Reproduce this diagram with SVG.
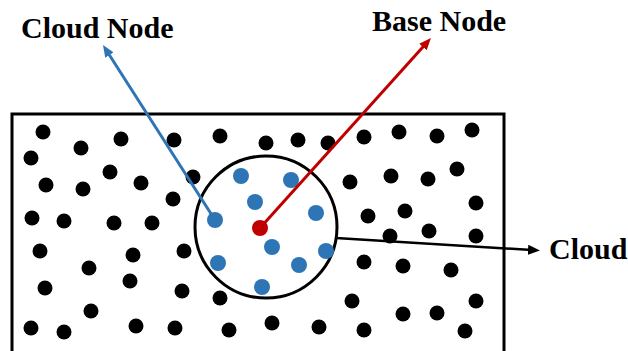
<svg xmlns="http://www.w3.org/2000/svg" width="628" height="351" viewBox="0 0 628 351">
<style>
.lbl{font-family:"Liberation Serif","Times New Roman",serif;font-weight:bold;font-size:30px;fill:#000}
.b{fill:#000}
.c{fill:#2E75B6}
</style>
<defs>
<marker id="ab" viewBox="0 0 12 10" markerWidth="12" markerHeight="10" refX="4" refY="5" orient="auto" markerUnits="userSpaceOnUse"><path d="M0,0 L12,5 L0,10 z" fill="#2E75B6"/></marker>
<marker id="ar" viewBox="0 0 12 10" markerWidth="12" markerHeight="10" refX="4" refY="5" orient="auto" markerUnits="userSpaceOnUse"><path d="M0,0 L12,5 L0,10 z" fill="#C00000"/></marker>
<marker id="ak" viewBox="0 0 12 10" markerWidth="12" markerHeight="10" refX="4" refY="5" orient="auto" markerUnits="userSpaceOnUse"><path d="M0,0 L12,5 L0,10 z" fill="#000"/></marker>
</defs>
<rect id="field" x="12" y="114" width="492" height="260" fill="none" stroke="#000" stroke-width="3"/>
<g id="black-nodes">
<circle class="b" cx="43" cy="132" r="7.5"/><circle class="b" cx="81" cy="148" r="7.5"/><circle class="b" cx="121" cy="139" r="7.5"/><circle class="b" cx="174" cy="140" r="7.5"/>
<circle class="b" cx="31" cy="158" r="7.5"/><circle class="b" cx="110" cy="172" r="7.5"/><circle class="b" cx="46" cy="185" r="7.5"/><circle class="b" cx="83" cy="189" r="7.5"/>
<circle class="b" cx="141" cy="183" r="7.5"/><circle class="b" cx="193" cy="177" r="7.5"/><circle class="b" cx="173" cy="199" r="7.5"/><circle class="b" cx="32" cy="218" r="7.5"/>
<circle class="b" cx="64" cy="221" r="7.5"/><circle class="b" cx="114" cy="223" r="7.5"/><circle class="b" cx="152" cy="223" r="7.5"/>
<circle class="b" cx="40" cy="251" r="7.5"/><circle class="b" cx="133" cy="255" r="7.5"/><circle class="b" cx="184" cy="251" r="7.5"/><circle class="b" cx="89" cy="268" r="7.5"/>
<circle class="b" cx="45" cy="288" r="7.5"/><circle class="b" cx="130" cy="281" r="7.5"/><circle class="b" cx="182" cy="291" r="7.5"/><circle class="b" cx="91" cy="311" r="7.5"/>
<circle class="b" cx="31" cy="328" r="7.5"/><circle class="b" cx="64" cy="332" r="7.5"/><circle class="b" cx="136" cy="326" r="7.5"/><circle class="b" cx="175" cy="328" r="7.5"/>
<circle class="b" cx="220" cy="136" r="7.5"/><circle class="b" cx="266" cy="143" r="7.5"/><circle class="b" cx="298" cy="140" r="7.5"/><circle class="b" cx="328" cy="143" r="7.5"/>
<circle class="b" cx="350" cy="182" r="7.5"/>
<circle class="b" cx="220" cy="298" r="7.5"/><circle class="b" cx="229" cy="330" r="7.5"/><circle class="b" cx="272" cy="323" r="7.5"/><circle class="b" cx="319" cy="327" r="7.5"/>
<circle class="b" cx="364" cy="137" r="7.5"/><circle class="b" cx="399" cy="132" r="7.5"/><circle class="b" cx="437" cy="136" r="7.5"/><circle class="b" cx="472" cy="130" r="7.5"/>
<circle class="b" cx="391" cy="176" r="7.5"/><circle class="b" cx="428" cy="179" r="7.5"/><circle class="b" cx="457" cy="169" r="7.5"/>
<circle class="b" cx="368" cy="216" r="7.5"/><circle class="b" cx="405" cy="211" r="7.5"/><circle class="b" cx="476" cy="203" r="7.5"/>
<circle class="b" cx="390" cy="236" r="7.5"/><circle class="b" cx="429" cy="231" r="7.5"/><circle class="b" cx="476" cy="236" r="7.5"/>
<circle class="b" cx="364" cy="262" r="7.5"/><circle class="b" cx="403" cy="266" r="7.5"/><circle class="b" cx="451" cy="270" r="7.5"/>
<circle class="b" cx="352" cy="301" r="7.5"/><circle class="b" cx="403" cy="314" r="7.5"/><circle class="b" cx="437" cy="313" r="7.5"/><circle class="b" cx="476" cy="301" r="7.5"/>
<circle class="b" cx="364" cy="330" r="7.5"/><circle class="b" cx="465" cy="331" r="7.5"/>
</g>
<g id="cloud">
<circle cx="266" cy="227" r="71" fill="none" stroke="#000" stroke-width="3"/>
</g>
<g id="cloud-nodes">
<circle class="c" cx="241" cy="176" r="8"/><circle class="c" cx="291" cy="180" r="8"/><circle class="c" cx="255" cy="202" r="8"/>
<circle class="c" cx="316" cy="213" r="8"/><circle class="c" cx="215" cy="220" r="8"/><circle class="c" cx="272" cy="247" r="8"/>
<circle class="c" cx="326" cy="251" r="8"/><circle class="c" cx="218" cy="263" r="8"/><circle class="c" cx="299" cy="265" r="8"/>
<circle class="c" cx="262" cy="287" r="8"/>
</g>
<g id="base-node">
<circle cx="260" cy="228" r="8" fill="#C00000"/>
</g>
<g id="connectors" fill="none">
<line x1="215" y1="220" x2="107.3" y2="51.7" stroke="#2E75B6" stroke-width="3" marker-end="url(#ab)"/>
<line x1="260" y1="228" x2="425.6" y2="44" stroke="#C00000" stroke-width="3" marker-end="url(#ar)"/>
<line x1="336" y1="238" x2="532" y2="250" stroke="#000" stroke-width="2.5" marker-end="url(#ak)"/>
</g>
<g id="labels">
<text class="lbl" x="21" y="38">Cloud Node</text>
<text class="lbl" x="372" y="31">Base Node</text>
<text class="lbl" x="549" y="259">Cloud</text>
</g>
</svg>
